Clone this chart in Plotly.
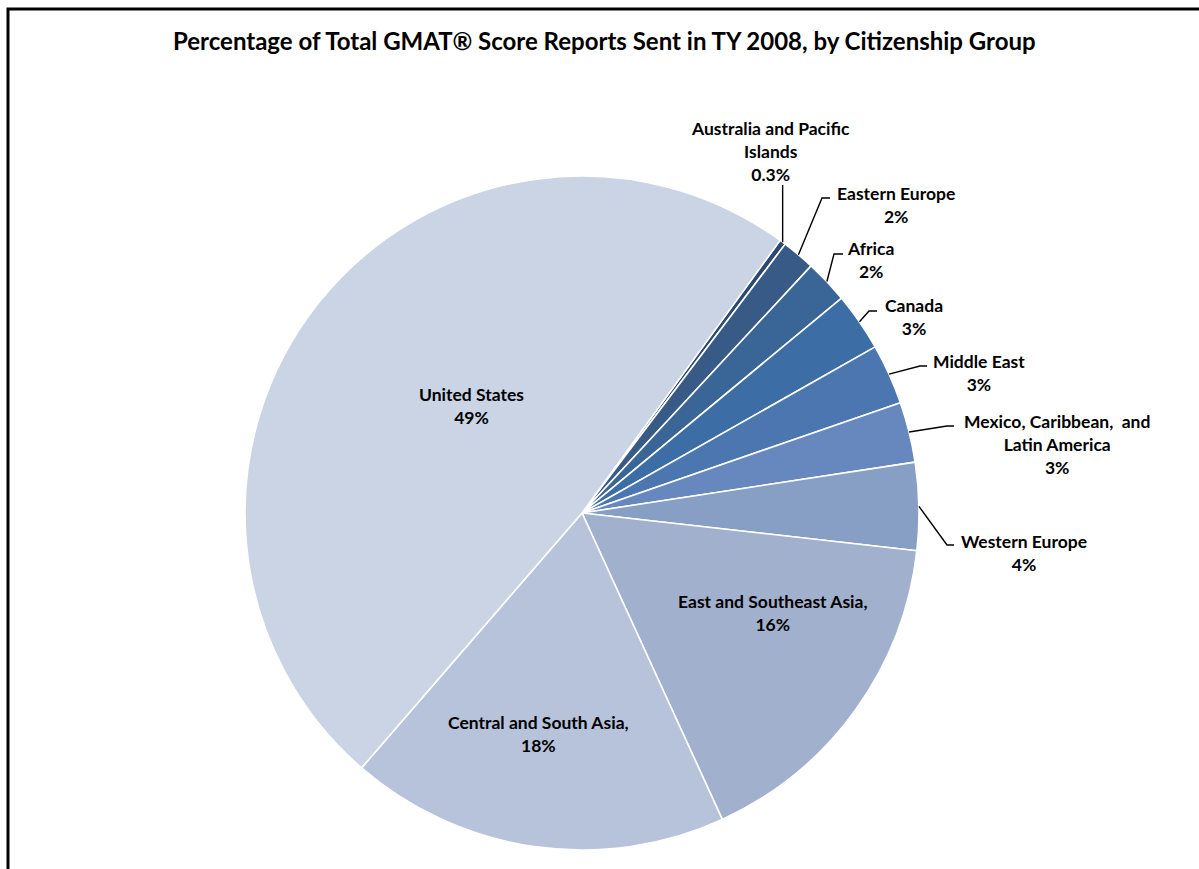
import math
import plotly.graph_objects as go

W, H = 1199, 869

# ---- data ----
regions = [
    "Australia and Pacific<br>Islands",
    "Eastern Europe",
    "Africa",
    "Canada",
    "Middle East",
    "Mexico, Caribbean,  and<br>Latin America",
    "Western Europe",
    "East and Southeast Asia,",
    "Central and South Asia,",
    "United States",
]
shares = [0.3, 1.6, 2.1, 2.8, 2.9, 2.9, 4.2, 16.4, 18.2, 48.7]
colors = ["#2B4A73", "#375A86", "#3A6697", "#3C6DA4", "#4B76B0",
          "#6788BE", "#879EC5", "#A1B1CD", "#B6C3DB", "#CAD4E4"]

# ---- layout ----
CX, CY, R = 582, 513, 337
ROTATION = 36.0
FONT = "Lato"


def px_to_paper(x, y):
    return x / W, 1 - y / H


def fmt(v):
    return f"{v:.1f}%" if v < 1 else f"{round(v):d}%"


# label placement (text block centre in px) and leader elbow (px) per slice; None = inside
label_pos = [(770, 152), (896, 205), (870, 260), (914, 317), (979, 373),
             (1057, 444), (1024, 553), (773, 613), (538, 734), (471, 406)]
elbows = [(None, 185, 0), (822, 198, 8), (834, 254, 9), (869, 311, 8), (920, 366, 7),
          (947, 426, 7), (947, 545, 7), None, None, None]

fig = go.Figure(go.Pie(
    labels=[r.replace("<br>", " ") for r in regions],
    values=shares,
    sort=False,
    direction="clockwise",
    rotation=ROTATION,
    marker=dict(colors=colors, line=dict(color="white", width=1.6)),
    textinfo="none",
    hoverinfo="label+percent",
    showlegend=False,
    domain=dict(x=[(CX - R) / W, (CX + R) / W],
                y=[(H - CY - R) / H, (H - CY + R) / H]),
))

total = sum(shares)
cum = 0.0
annotations = []
shapes = []
for name, v, (tx, ty), el in zip(regions, shares, label_pos, elbows):
    mid = math.radians(ROTATION + 360 * (cum + v / 2) / total)
    cum += v
    ax_px = CX + R * math.sin(mid)
    ay_px = CY - R * math.cos(mid)
    px, py = px_to_paper(tx, ty)
    annotations.append(dict(
        x=px, y=py, xref="paper", yref="paper", showarrow=False,
        text=f"{name}<br>{fmt(v)}", xanchor="center", yanchor="middle",
        font=dict(family=FONT, size=17.5, color="#000000", weight="bold"),
    ))
    if el is not None:
        ex, ey, stub = el
        if ex is None:
            ex = ax_px
        pts = [(ax_px, ay_px), (ex, ey), (ex + stub, ey)]
        path = "M " + " L ".join(f"{x / W},{1 - y / H}" for x, y in pts)
        shapes.append(dict(type="path", path=path, xref="paper", yref="paper",
                           line=dict(color="#000000", width=1.4)))

# outer frame
shapes.append(dict(type="rect", xref="paper", yref="paper",
                   x0=8 / W, y0=-0.02, x1=1.02, y1=1 - 9 / H,
                   line=dict(color="#000000", width=3)))

annotations.append(dict(
    x=604 / W, y=1 - 40 / H, xref="paper", yref="paper", showarrow=False,
    text="Percentage of Total GMAT® Score Reports Sent in TY 2008, by Citizenship Group",
    xanchor="center", yanchor="middle",
    font=dict(family=FONT, size=24, color="#000000", weight="bold"),
))

fig.update_layout(
    width=W, height=H,
    margin=dict(l=0, r=0, t=0, b=0),
    paper_bgcolor="white", plot_bgcolor="white",
    annotations=annotations, shapes=shapes,
    font=dict(family=FONT),
)

fig.write_html("out.html")
